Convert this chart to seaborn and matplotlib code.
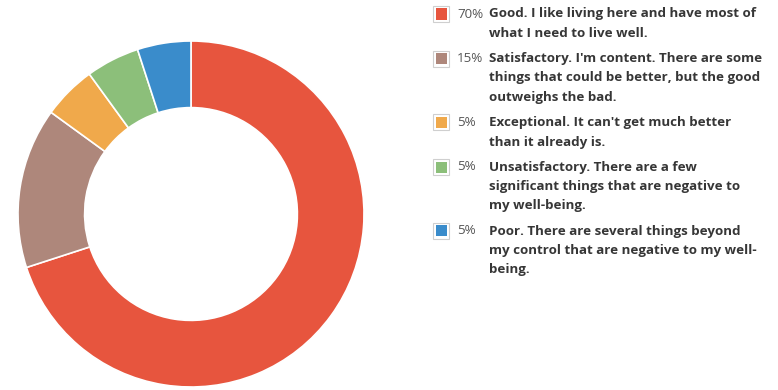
import matplotlib
matplotlib.use("Agg")
import matplotlib.pyplot as plt
from matplotlib.patches import Rectangle
import seaborn as sns

# Survey responses
shares = [70, 15, 5, 5, 5]
pct_labels = ["70%", "15%", "5%", "5%", "5%"]
answers = [
    "Good. I like living here and have most of\nwhat I need to live well.",
    "Satisfactory. I'm content. There are some\nthings that could be better, but the good\noutweighs the bad.",
    "Exceptional. It can't get much better\nthan it already is.",
    "Unsatisfactory. There are a few\nsignificant things that are negative to\nmy well-being.",
    "Poor. There are several things beyond\nmy control that are negative to my well-\nbeing.",
]
colors = ["#e7553e", "#ae877b", "#f0a94b", "#8cbf7a", "#3a8ccb"]

sns.set_theme(style="white")
plt.rcParams["font.family"] = ["Open Sans", "DejaVu Sans"]

W, H = 778, 390
fig = plt.figure(figsize=(W / 100, H / 100), dpi=100)

# Donut chart
cx, cy, r = 191, 214, 173
ax = fig.add_axes([(cx - r) / W, 1 - (cy + r) / H, 2 * r / W, 2 * r / H])
ax.pie(shares, colors=colors, startangle=90, counterclock=False,
       wedgeprops=dict(width=0.385, edgecolor="white", linewidth=1.2))
ax.set_xlim(-1, 1)
ax.set_ylim(-1, 1)
ax.set_aspect("equal")
ax.axis("off")

# Legend drawn as figure text
line_h = 19.5
item_gap = 5.5
fs = 9.6
y = 14
for pct, text, col in zip(pct_labels, answers, colors):
    sx, sy, s = 433, y - 8, 16
    fig.patches.append(Rectangle((sx / W, 1 - (sy + s) / H), s / W, s / H,
                                 transform=fig.transFigure, facecolor="white",
                                 edgecolor="#cfcfcf", linewidth=0.8))
    pad = 2.5
    fig.patches.append(Rectangle(((sx + pad) / W, 1 - (sy + s - pad) / H),
                                 (s - 2 * pad) / W, (s - 2 * pad) / H,
                                 transform=fig.transFigure, facecolor=col,
                                 edgecolor="none"))
    fig.text(457 / W, 1 - y / H, pct, fontsize=fs, color="#555555",
             va="center", ha="left")
    lines = text.split("\n")
    for i, ln in enumerate(lines):
        fig.text(489 / W, 1 - (y + i * line_h) / H, ln, fontsize=fs,
                 fontweight="bold", color="#363636", va="center", ha="left")
    y += len(lines) * line_h + item_gap

fig.savefig("out.png", dpi=100, facecolor="white")
